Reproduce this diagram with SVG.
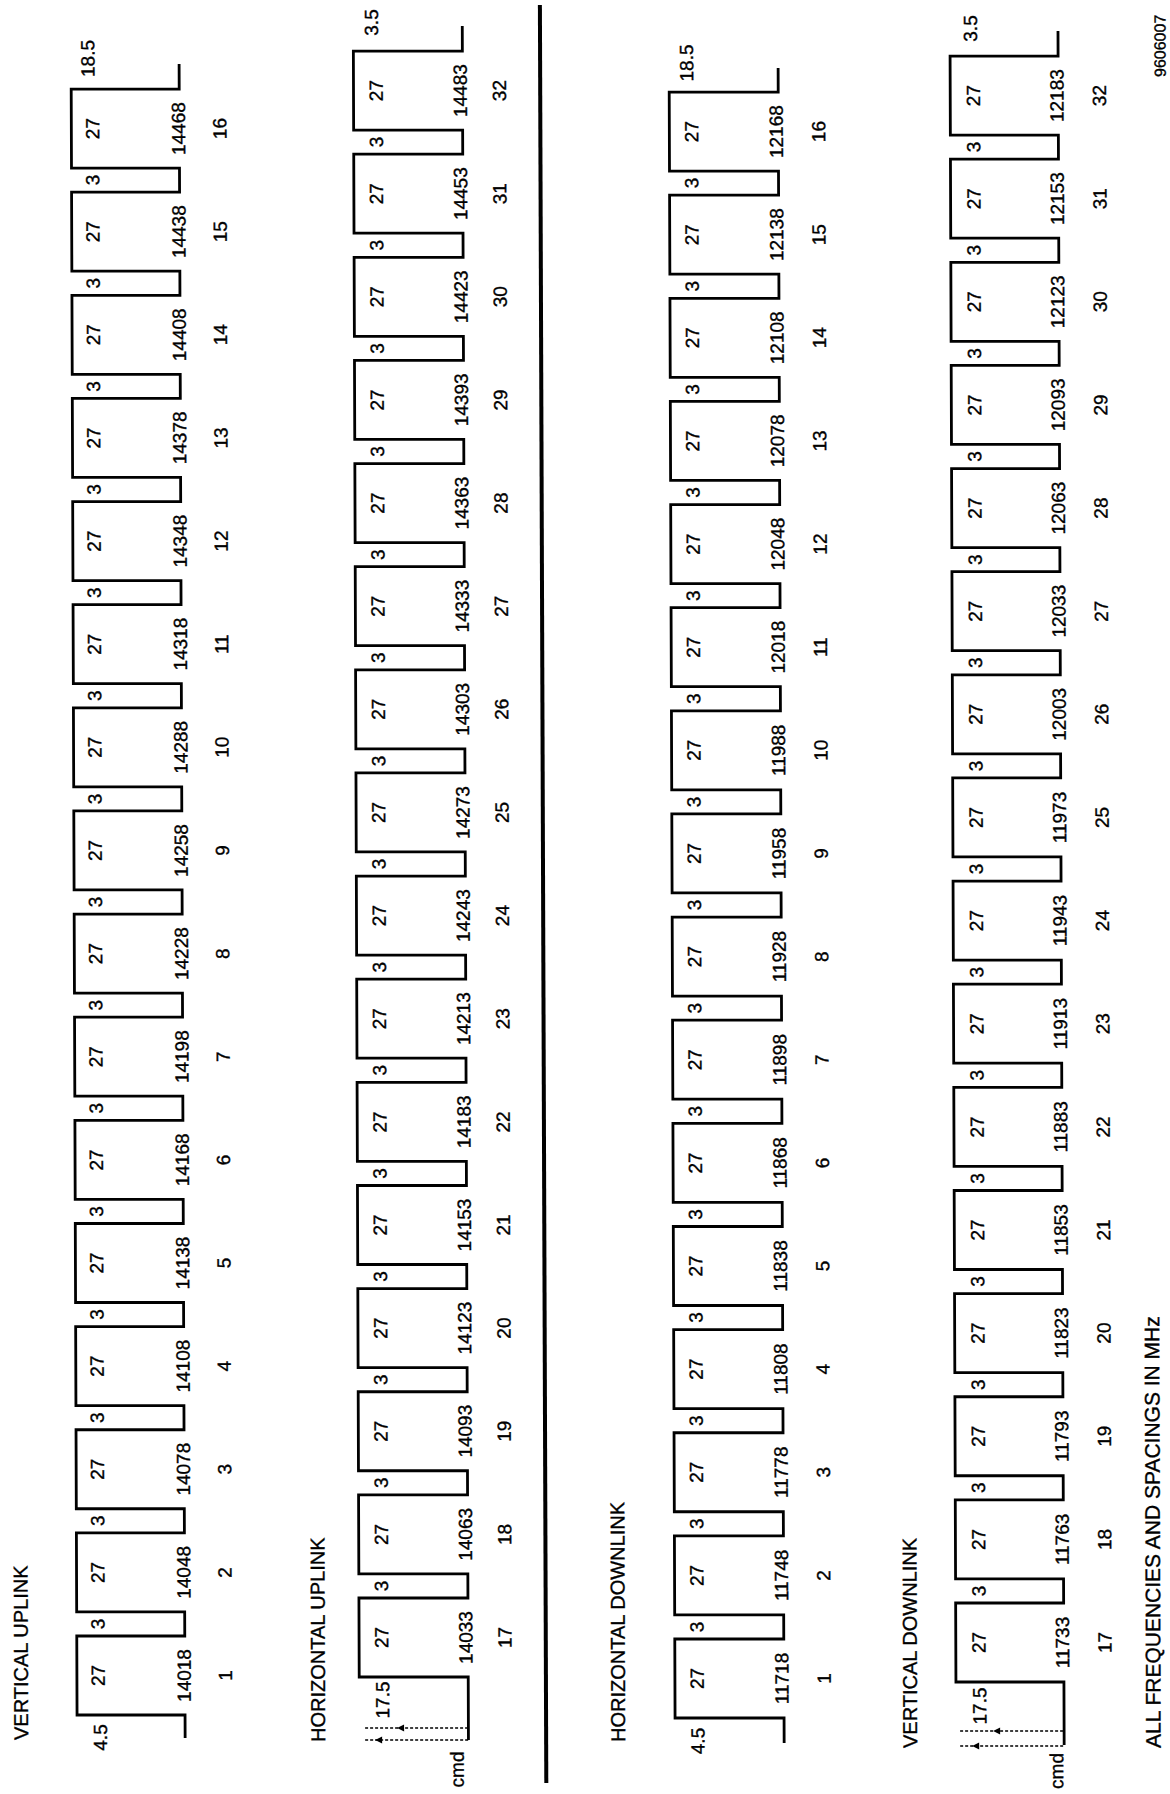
<svg xmlns="http://www.w3.org/2000/svg" width="1170" height="1794" viewBox="0 0 1170 1794">
<style>
.w{fill:none;stroke:#000;stroke-width:2.8;stroke-linejoin:miter}
.d{fill:none;stroke:#000;stroke-width:1.6;stroke-dasharray:3 2}
.sep{stroke:#000;stroke-width:4}
.ah{fill:#000}
text{font-family:"Liberation Sans",Arial,Helvetica,sans-serif;fill:#000;stroke:#000;stroke-width:0.35}
.n{font-size:19px;text-anchor:middle}
.h{font-size:20px;text-anchor:start}
.hf{font-size:21px;text-anchor:start}
.f{font-size:16px;text-anchor:start}
</style>
<rect width="1170" height="1794" fill="#fff"/>
<g id="page" transform="matrix(1,0,0.0036,1,-6.12,0)">
<g id="connectors">
<line class="sep" x1="546" y1="5" x2="546" y2="1783"/>
</g>
<g id="row-vertical-uplink">
<path class="w" d="M185,1738V1715H77v-79h108v-24.13h-108v-79h108v-24.13h-108v-79h108v-24.13h-108v-79h108v-24.13h-108v-79h108v-24.13h-108v-79h108v-24.13h-108v-79h108v-24.13h-108v-79h108v-24.13h-108v-79h108v-24.13h-108v-79h108v-24.13h-108v-79h108v-24.13h-108v-79h108v-24.13h-108v-79h108v-24.13h-108v-79h108v-24.13h-108v-79h108v-24.13h-108v-79h108v-25"/>
</g>
<g id="row-horizontal-uplink">
<path class="w" d="M468.3,1740V1677H359.3v-79h109v-24.13h-109v-79h109v-24.13h-109v-79h109v-24.13h-109v-79h109v-24.13h-109v-79h109v-24.13h-109v-79h109v-24.13h-109v-79h109v-24.13h-109v-79h109v-24.13h-109v-79h109v-24.13h-109v-79h109v-24.13h-109v-79h109v-24.13h-109v-79h109v-24.13h-109v-79h109v-24.13h-109v-79h109v-24.13h-109v-79h109v-24.13h-109v-79h109v-25"/>
<path class="d" d="M365,1728H468M365,1740H468"/>
<polygon class="ah" points="397,1728 404,1724.5 404,1731.5"/>
<polygon class="ah" points="375,1740 382,1736.5 382,1743.5"/>
</g>
<g id="row-horizontal-downlink">
<path class="w" d="M784,1743V1718H675v-79h109v-24.13h-109v-79h109v-24.13h-109v-79h109v-24.13h-109v-79h109v-24.13h-109v-79h109v-24.13h-109v-79h109v-24.13h-109v-79h109v-24.13h-109v-79h109v-24.13h-109v-79h109v-24.13h-109v-79h109v-24.13h-109v-79h109v-24.13h-109v-79h109v-24.13h-109v-79h109v-24.13h-109v-79h109v-24.13h-109v-79h109v-24.13h-109v-79h109v-24"/>
</g>
<g id="row-vertical-downlink">
<path class="w" d="M1064,1745V1682H956v-79h108v-24.13h-108v-79h108v-24.13h-108v-79h108v-24.13h-108v-79h108v-24.13h-108v-79h108v-24.13h-108v-79h108v-24.13h-108v-79h108v-24.13h-108v-79h108v-24.13h-108v-79h108v-24.13h-108v-79h108v-24.13h-108v-79h108v-24.13h-108v-79h108v-24.13h-108v-79h108v-24.13h-108v-79h108v-24.13h-108v-79h108v-24.13h-108v-79h108v-25"/>
<path class="d" d="M960,1731H1064M960,1746H1064"/>
<polygon class="ah" points="993,1731 1000,1727.5 1000,1734.5"/>
<polygon class="ah" points="972,1746 979,1742.5 979,1749.5"/>
</g>
<g id="labels" transform="rotate(-90)">
<text class="h" x="-1740" y="28">VERTICAL UPLINK</text>
<text class="h" x="-1742" y="325">HORIZONTAL UPLINK</text>
<text class="h" x="-1742" y="625">HORIZONTAL DOWNLINK</text>
<text class="h" x="-1748" y="917">VERTICAL DOWNLINK</text>
<text class="hf" x="-1748" y="1160.5">ALL FREQUENCIES AND SPACINGS IN MHz</text>
<text class="f" x="-77" y="1171.5">9606007</text>

<text class="n" x="-1737.5" y="106.8">4.5</text>
<text class="n" x="-58.5" y="100.3">18.5</text>
<text class="n" x="-1700" y="389.3">17.5</text>
<text class="n" x="-1769.5" y="463.5">cmd</text>
<text class="n" x="-22.5" y="384">3.5</text>
<text class="n" x="-1741" y="704.3">4.5</text>
<text class="n" x="-63" y="699">18.5</text>
<text class="n" x="-1706" y="986.3">17.5</text>
<text class="n" x="-1771" y="1063">cmd</text>
<text class="n" x="-28.5" y="983">3.5</text>

<text class="n" y="104.8"><tspan x="-1675.5">27</tspan><tspan x="-1572.4">27</tspan><tspan x="-1469.2">27</tspan><tspan x="-1366.1">27</tspan><tspan x="-1263">27</tspan><tspan x="-1159.9">27</tspan><tspan x="-1056.7">27</tspan><tspan x="-953.6">27</tspan><tspan x="-850.5">27</tspan><tspan x="-747.3">27</tspan><tspan x="-644.2">27</tspan><tspan x="-541.1">27</tspan><tspan x="-437.9">27</tspan><tspan x="-334.8">27</tspan><tspan x="-231.7">27</tspan><tspan x="-128.6">27</tspan></text>
<text class="n" y="104.8"><tspan x="-1623.9">3</tspan><tspan x="-1520.8">3</tspan><tspan x="-1417.7">3</tspan><tspan x="-1314.5">3</tspan><tspan x="-1211.4">3</tspan><tspan x="-1108.3">3</tspan><tspan x="-1005.2">3</tspan><tspan x="-902">3</tspan><tspan x="-798.9">3</tspan><tspan x="-695.8">3</tspan><tspan x="-592.6">3</tspan><tspan x="-489.5">3</tspan><tspan x="-386.4">3</tspan><tspan x="-283.2">3</tspan><tspan x="-180.1">3</tspan></text>
<text class="n" y="190.8"><tspan x="-1675.5">14018</tspan><tspan x="-1572.4">14048</tspan><tspan x="-1469.2">14078</tspan><tspan x="-1366.1">14108</tspan><tspan x="-1263">14138</tspan><tspan x="-1159.9">14168</tspan><tspan x="-1056.7">14198</tspan><tspan x="-953.6">14228</tspan><tspan x="-850.5">14258</tspan><tspan x="-747.3">14288</tspan><tspan x="-644.2">14318</tspan><tspan x="-541.1">14348</tspan><tspan x="-437.9">14378</tspan><tspan x="-334.8">14408</tspan><tspan x="-231.7">14438</tspan><tspan x="-128.6">14468</tspan></text>
<text class="n" y="232"><tspan x="-1675.5">1</tspan><tspan x="-1572.4">2</tspan><tspan x="-1469.2">3</tspan><tspan x="-1366.1">4</tspan><tspan x="-1263">5</tspan><tspan x="-1159.9">6</tspan><tspan x="-1056.7">7</tspan><tspan x="-953.6">8</tspan><tspan x="-850.5">9</tspan><tspan x="-747.3">10</tspan><tspan x="-644.2">11</tspan><tspan x="-541.1">12</tspan><tspan x="-437.9">13</tspan><tspan x="-334.8">14</tspan><tspan x="-231.7">15</tspan><tspan x="-128.6">16</tspan></text>

<text class="n" y="388.5"><tspan x="-1637.5">27</tspan><tspan x="-1534.4">27</tspan><tspan x="-1431.2">27</tspan><tspan x="-1328.1">27</tspan><tspan x="-1225">27</tspan><tspan x="-1121.9">27</tspan><tspan x="-1018.7">27</tspan><tspan x="-915.6">27</tspan><tspan x="-812.5">27</tspan><tspan x="-709.3">27</tspan><tspan x="-606.2">27</tspan><tspan x="-503.1">27</tspan><tspan x="-399.9">27</tspan><tspan x="-296.8">27</tspan><tspan x="-193.7">27</tspan><tspan x="-90.6">27</tspan></text>
<text class="n" y="388.5"><tspan x="-1585.9">3</tspan><tspan x="-1482.8">3</tspan><tspan x="-1379.7">3</tspan><tspan x="-1276.5">3</tspan><tspan x="-1173.4">3</tspan><tspan x="-1070.3">3</tspan><tspan x="-967.2">3</tspan><tspan x="-864">3</tspan><tspan x="-760.9">3</tspan><tspan x="-657.8">3</tspan><tspan x="-554.6">3</tspan><tspan x="-451.5">3</tspan><tspan x="-348.4">3</tspan><tspan x="-245.2">3</tspan><tspan x="-142.1">3</tspan></text>
<text class="n" y="472.6"><tspan x="-1637.5">14033</tspan><tspan x="-1534.4">14063</tspan><tspan x="-1431.2">14093</tspan><tspan x="-1328.1">14123</tspan><tspan x="-1225">14153</tspan><tspan x="-1121.9">14183</tspan><tspan x="-1018.7">14213</tspan><tspan x="-915.6">14243</tspan><tspan x="-812.5">14273</tspan><tspan x="-709.3">14303</tspan><tspan x="-606.2">14333</tspan><tspan x="-503.1">14363</tspan><tspan x="-399.9">14393</tspan><tspan x="-296.8">14423</tspan><tspan x="-193.7">14453</tspan><tspan x="-90.6">14483</tspan></text>
<text class="n" y="511.8"><tspan x="-1637.5">17</tspan><tspan x="-1534.4">18</tspan><tspan x="-1431.2">19</tspan><tspan x="-1328.1">20</tspan><tspan x="-1225">21</tspan><tspan x="-1121.9">22</tspan><tspan x="-1018.7">23</tspan><tspan x="-915.6">24</tspan><tspan x="-812.5">25</tspan><tspan x="-709.3">26</tspan><tspan x="-606.2">27</tspan><tspan x="-503.1">28</tspan><tspan x="-399.9">29</tspan><tspan x="-296.8">30</tspan><tspan x="-193.7">31</tspan><tspan x="-90.6">32</tspan></text>

<text class="n" y="703.8"><tspan x="-1678.5">27</tspan><tspan x="-1575.4">27</tspan><tspan x="-1472.2">27</tspan><tspan x="-1369.1">27</tspan><tspan x="-1266">27</tspan><tspan x="-1162.9">27</tspan><tspan x="-1059.7">27</tspan><tspan x="-956.6">27</tspan><tspan x="-853.5">27</tspan><tspan x="-750.3">27</tspan><tspan x="-647.2">27</tspan><tspan x="-544.1">27</tspan><tspan x="-440.9">27</tspan><tspan x="-337.8">27</tspan><tspan x="-234.7">27</tspan><tspan x="-131.6">27</tspan></text>
<text class="n" y="703.8"><tspan x="-1626.9">3</tspan><tspan x="-1523.8">3</tspan><tspan x="-1420.7">3</tspan><tspan x="-1317.5">3</tspan><tspan x="-1214.4">3</tspan><tspan x="-1111.3">3</tspan><tspan x="-1008.2">3</tspan><tspan x="-905">3</tspan><tspan x="-801.9">3</tspan><tspan x="-698.8">3</tspan><tspan x="-595.6">3</tspan><tspan x="-492.5">3</tspan><tspan x="-389.4">3</tspan><tspan x="-286.2">3</tspan><tspan x="-183.1">3</tspan></text>
<text class="n" y="788.5"><tspan x="-1678.5">11718</tspan><tspan x="-1575.4">11748</tspan><tspan x="-1472.2">11778</tspan><tspan x="-1369.1">11808</tspan><tspan x="-1266">11838</tspan><tspan x="-1162.9">11868</tspan><tspan x="-1059.7">11898</tspan><tspan x="-956.6">11928</tspan><tspan x="-853.5">11958</tspan><tspan x="-750.3">11988</tspan><tspan x="-647.2">12018</tspan><tspan x="-544.1">12048</tspan><tspan x="-440.9">12078</tspan><tspan x="-337.8">12108</tspan><tspan x="-234.7">12138</tspan><tspan x="-131.6">12168</tspan></text>
<text class="n" y="830.8"><tspan x="-1678.5">1</tspan><tspan x="-1575.4">2</tspan><tspan x="-1472.2">3</tspan><tspan x="-1369.1">4</tspan><tspan x="-1266">5</tspan><tspan x="-1162.9">6</tspan><tspan x="-1059.7">7</tspan><tspan x="-956.6">8</tspan><tspan x="-853.5">9</tspan><tspan x="-750.3">10</tspan><tspan x="-647.2">11</tspan><tspan x="-544.1">12</tspan><tspan x="-440.9">13</tspan><tspan x="-337.8">14</tspan><tspan x="-234.7">15</tspan><tspan x="-131.6">16</tspan></text>

<text class="n" y="985.8"><tspan x="-1642.5">27</tspan><tspan x="-1539.4">27</tspan><tspan x="-1436.2">27</tspan><tspan x="-1333.1">27</tspan><tspan x="-1230">27</tspan><tspan x="-1126.9">27</tspan><tspan x="-1023.7">27</tspan><tspan x="-920.6">27</tspan><tspan x="-817.5">27</tspan><tspan x="-714.3">27</tspan><tspan x="-611.2">27</tspan><tspan x="-508.1">27</tspan><tspan x="-404.9">27</tspan><tspan x="-301.8">27</tspan><tspan x="-198.7">27</tspan><tspan x="-95.6">27</tspan></text>
<text class="n" y="985.8"><tspan x="-1590.9">3</tspan><tspan x="-1487.8">3</tspan><tspan x="-1384.7">3</tspan><tspan x="-1281.5">3</tspan><tspan x="-1178.4">3</tspan><tspan x="-1075.3">3</tspan><tspan x="-972.2">3</tspan><tspan x="-869">3</tspan><tspan x="-765.9">3</tspan><tspan x="-662.8">3</tspan><tspan x="-559.6">3</tspan><tspan x="-456.5">3</tspan><tspan x="-353.4">3</tspan><tspan x="-250.2">3</tspan><tspan x="-147.1">3</tspan></text>
<text class="n" y="1069.3"><tspan x="-1642.5">11733</tspan><tspan x="-1539.4">11763</tspan><tspan x="-1436.2">11793</tspan><tspan x="-1333.1">11823</tspan><tspan x="-1230">11853</tspan><tspan x="-1126.9">11883</tspan><tspan x="-1023.7">11913</tspan><tspan x="-920.6">11943</tspan><tspan x="-817.5">11973</tspan><tspan x="-714.3">12003</tspan><tspan x="-611.2">12033</tspan><tspan x="-508.1">12063</tspan><tspan x="-404.9">12093</tspan><tspan x="-301.8">12123</tspan><tspan x="-198.7">12153</tspan><tspan x="-95.6">12183</tspan></text>
<text class="n" y="1111.8"><tspan x="-1642.5">17</tspan><tspan x="-1539.4">18</tspan><tspan x="-1436.2">19</tspan><tspan x="-1333.1">20</tspan><tspan x="-1230">21</tspan><tspan x="-1126.9">22</tspan><tspan x="-1023.7">23</tspan><tspan x="-920.6">24</tspan><tspan x="-817.5">25</tspan><tspan x="-714.3">26</tspan><tspan x="-611.2">27</tspan><tspan x="-508.1">28</tspan><tspan x="-404.9">29</tspan><tspan x="-301.8">30</tspan><tspan x="-198.7">31</tspan><tspan x="-95.6">32</tspan></text>
</g>
</g>
</svg>
